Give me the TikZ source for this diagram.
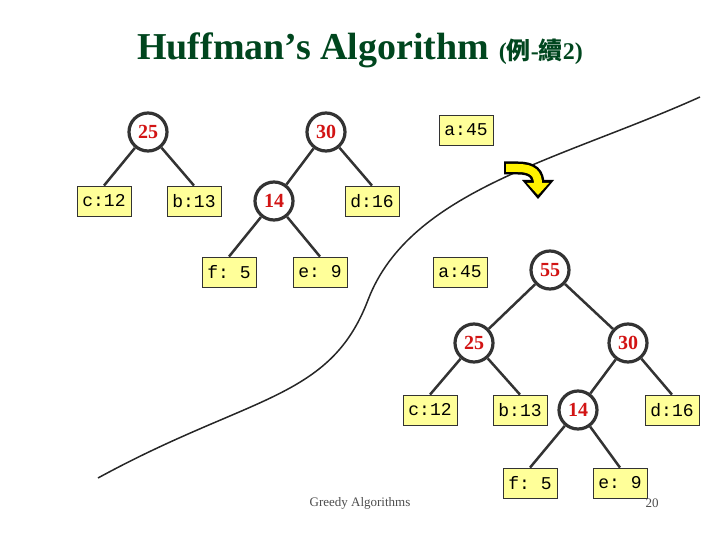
\documentclass[tikz,border=0pt]{standalone}
\usepackage{fontspec}
\setmainfont{Liberation Serif}
\setmonofont{Liberation Mono}
\newfontfamily\cjk{Noto Sans CJK TC}
\definecolor{leafy}{RGB}{255,255,153}
\definecolor{titlegreen}{RGB}{0,70,30}
\definecolor{numred}{RGB}{210,20,20}
\begin{document}
\begin{tikzpicture}[x=1pt,y=-1pt]
\tikzstyle{leaf} = [draw=black!80, fill=leafy, line width=0.8, minimum width=54, minimum height=30, inner sep=2, font=\fontsize{18}{18}\ttfamily];
\tikzstyle{inner} = [draw=black!80, circle, fill=white, line width=3.2, minimum size=38, inner sep=0, text=numred, font=\fontsize{20}{20}\bfseries];
\tikzstyle{edge} = [draw=black!80, line width=2.5];
\useasboundingbox (0,0) rectangle (720,540);
\node[font=\fontsize{38}{38}\bfseries, text=titlegreen] (title) at (360,50) {Huffman's Algorithm \fontsize{24}{24}\selectfont(\cjk 例\rmfamily -\cjk 續\rmfamily 2)};
% before merging
\node[inner] (a25) at (148,132) {25};
\node[leaf] (ac) at (104,201) {c:12};
\node[leaf] (ab) at (194,201) {b:13};
\node[inner] (a30) at (326,132) {30};
\node[inner] (a14) at (274,201) {14};
\node[leaf] (ad) at (372,201) {d:16};
\node[leaf] (af) at (229,272) {f: 5};
\node[leaf] (ae) at (320,272) {e: 9};
\node[leaf] (aa) at (466,130) {a:45};
\draw[edge] (a25) -- (ac.north) (a25) -- (ab.north);
\draw[edge] (a30) -- (a14) (a30) -- (ad.north);
\draw[edge] (a14) -- (af.north) (a14) -- (ae.north);
% after merging
\node[leaf] (ba) at (460,272) {a:45};
\node[inner] (b55) at (550,270) {55};
\node[inner] (b25) at (474,343) {25};
\node[inner] (b30) at (628,343) {30};
\node[leaf] (bc) at (430,410) {c:12};
\node[leaf] (bb) at (520,410) {b:13};
\node[inner] (b14) at (578,410) {14};
\node[leaf] (bd) at (672,410) {d:16};
\node[leaf] (bf) at (530,483) {f: 5};
\node[leaf] (be) at (620,483) {e: 9};
\draw[edge] (b55) -- (b25) (b55) -- (b30);
\draw[edge] (b25) -- (bc.north) (b25) -- (bb.north);
\draw[edge] (b30) -- (b14) (b30) -- (bd.north);
\draw[edge] (b14) -- (bf.north) (b14) -- (be.north);
% dividing curve
\draw[black!85, line width=1.5] (98,478) .. controls (250,395) and (330,400) .. (368,300)
  .. controls (410,190) and (560,160) .. (700,97);
% turn arrow
\draw[black, line width=13] (504,168) -- (518,168) .. controls (533,168) and (538,174) .. (538,184);
\fill[black] (522,180) -- (554,180) -- (538,199) -- cycle;
\draw[yellow, line width=8] (506,168) -- (518,168) .. controls (533,168) and (538,174) .. (538,184);
\fill[yellow] (527,183) -- (549,183) -- (538,195) -- cycle;
\node[font=\fontsize{13}{13}\selectfont, text=black!70] (foot) at (360,503) {Greedy Algorithms};
\node[font=\fontsize{13}{13}\selectfont, text=black!70] (page) at (652,503) {20};
\end{tikzpicture}
\end{document}
